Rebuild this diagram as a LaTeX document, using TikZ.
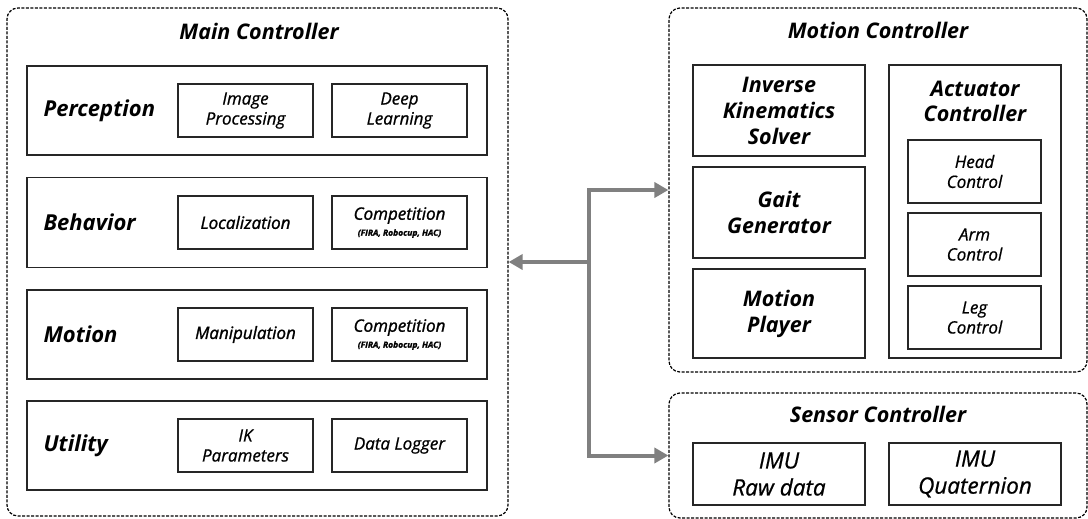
\documentclass[tikz,border=0pt]{standalone}
\usepackage{fontspec}
\setmainfont{Open Sans}
\newfontfamily\medfont[FakeBold=0.8]{Open Sans}
\newfontfamily\semifont[FakeBold=1.4]{Open Sans}
\usetikzlibrary{arrows.meta}

\begin{document}
\begin{tikzpicture}[x=1pt, y=-1pt,
    group/.style={draw=black, line width=1.2pt, dash pattern=on 3pt off 1.5pt, rounded corners=11pt, inner sep=0pt},
    box/.style={draw=black!85, line width=1.5pt, inner sep=0pt, align=center},
    title/.style={font=\bfseries\itshape\fontsize{21.5}{24}\selectfont},
    big/.style={box, font=\bfseries\itshape\fontsize{21.5}{26}\selectfont},
    small/.style={box, font=\medfont\itshape\fontsize{17}{20}\selectfont},
    semi/.style={box, font=\semifont\itshape\fontsize{17}{19}\selectfont},
    rowlab/.style={anchor=west, font=\bfseries\itshape\fontsize{22}{24}\selectfont},
    link/.style={draw=gray, line width=4pt, -{Triangle[length=14pt, width=15pt]}}]

    \useasboundingbox (0,0) rectangle (1088,519);

    % Main Controller
    \node[group, minimum width=501pt, minimum height=508pt] (main) at (257.5, 262) {};
    \node[title] (mainT) at (259, 31) {Main Controller};

    \node[box, minimum width=460pt, minimum height=89pt] (percep) at (257, 110.5) {};
    \node[rowlab] (percepL) at (40, 110.5) {Perception};
    \node[small, minimum width=135pt, minimum height=53pt] (imgproc) at (245.5, 110.5) {Image\\Processing};
    \node[small, minimum width=135pt, minimum height=53pt] (deeplrn) at (399.5, 110.5) {Deep\\Learning};

    \node[box, minimum width=460pt, minimum height=90pt] (behav) at (257, 222.5) {};
    \node[rowlab] (behavL) at (40, 222.5) {Behavior};
    \node[semi, minimum width=135pt, minimum height=53pt] (local) at (245.5, 222.5) {Localization};
    \node[semi, minimum width=135pt, minimum height=53pt] (compB) at (399.5, 222.5) {Competition\\[-3pt]{\bfseries\fontsize{8.5}{10}\selectfont (FIRA, Robocup, HAC)}};

    \node[box, minimum width=460pt, minimum height=89pt] (motion) at (257, 334.5) {};
    \node[rowlab] (motionL) at (40, 334.5) {Motion};
    \node[semi, minimum width=135pt, minimum height=53pt] (manip) at (245.5, 334.5) {Manipulation};
    \node[semi, minimum width=135pt, minimum height=53pt] (compM) at (399.5, 334.5) {Competition\\[-3pt]{\bfseries\fontsize{8.5}{10}\selectfont (FIRA, Robocup, HAC)}};

    \node[box, minimum width=460pt, minimum height=89pt] (util) at (257, 445.5) {};
    \node[rowlab] (utilL) at (40, 445.5) {Utility};
    \node[small, minimum width=135pt, minimum height=53pt] (ikpar) at (245.5, 445.5) {IK\\Parameters};
    \node[small, minimum width=135pt, minimum height=53pt] (logger) at (399.5, 445.5) {Data Logger};

    % Motion Controller
    \node[group, minimum width=418pt, minimum height=364pt] (mctrl) at (878, 190) {};
    \node[title] (mctrlT) at (878, 30) {Motion Controller};

    \node[big, minimum width=172pt, minimum height=91pt] (iksolver) at (779, 110.5) {Inverse\\Kinematics\\Solver};
    \node[big, minimum width=172pt, minimum height=91pt] (gait) at (779, 212.5) {Gait\\Generator};
    \node[big, minimum width=172pt, minimum height=89pt] (player) at (779, 313.5) {Motion\\Player};

    \node[box, minimum width=172pt, minimum height=293pt] (actu) at (975, 211.5) {};
    \node[font=\bfseries\itshape\fontsize{21.5}{25}\selectfont, align=center] (actuT) at (975, 101) {Actuator\\Controller};
    \node[small, minimum width=133pt, minimum height=63pt] (head) at (974.5, 171.5) {Head\\Control};
    \node[small, minimum width=133pt, minimum height=63pt] (arm) at (974.5, 244.5) {Arm\\Control};
    \node[small, minimum width=133pt, minimum height=63pt] (leg) at (974.5, 317.5) {Leg\\Control};

    % Sensor Controller
    \node[group, minimum width=418pt, minimum height=125pt] (sctrl) at (878, 455.5) {};
    \node[title] (sctrlT) at (878, 414) {Sensor Controller};
    \node[box, font=\medfont\itshape\fontsize{22.5}{27}\selectfont, minimum width=172pt, minimum height=62pt] (imuraw) at (779, 474) {IMU\\Raw data};
    \node[box, font=\medfont\itshape\fontsize{22.5}{27}\selectfont, minimum width=172pt, minimum height=62pt] (imuquat) at (975, 474) {IMU\\Quaternion};

    % 连接
    \coordinate (hub) at (589, 262);
    \draw[link] (hub) -- (main.east);
    \draw[link] (hub) |- (mctrl.west);
    \draw[link] (hub) |- (sctrl.west);
\end{tikzpicture}
\end{document}
